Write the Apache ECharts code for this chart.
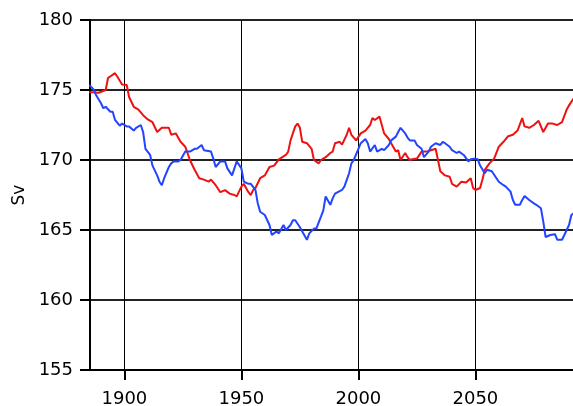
<!DOCTYPE html>
<html lang="en">
<head>
    <meta charset="UTF-8">
    <title>Sv</title>
    <script src="https://cdn.jsdelivr.net/npm/echarts@6/dist/echarts.min.js"></script>
    <style>
        html, body { margin: 0; padding: 0; background: #fff; }
        #chart { width: 573px; height: 406px; }
    </style>
</head>
<body>
    <div id="chart"></div>
    <script>
        // red series
        var redYears = [1885, 1889, 1892, 1893, 1896, 1897, 1899, 1901, 1902, 1904, 1906, 1908, 1910, 1912, 1914, 1916, 1919, 1920, 1922, 1924,
            1926, 1928, 1930, 1932, 1934, 1936, 1937, 1939, 1941, 1943, 1945, 1947, 1948, 1950, 1951, 1953, 1954, 1955, 1956, 1958,
            1960, 1962, 1964, 1966, 1969, 1970, 1971, 1973, 1974, 1975, 1976, 1978, 1980, 1981, 1983, 1984, 1986, 1988, 1989, 1990,
            1992, 1993, 1995, 1996, 1997, 1999, 2001, 2003, 2005, 2006, 2007, 2009, 2010, 2011, 2013, 2014, 2016, 2017, 2018, 2020,
            2021, 2022, 2023, 2025, 2027, 2029, 2031, 2033, 2034, 2035, 2037, 2039, 2040, 2042, 2044, 2046, 2048, 2049, 2050, 2052,
            2053, 2054, 2056, 2058, 2060, 2062, 2064, 2066, 2068, 2070, 2071, 2073, 2075, 2077, 2079, 2081, 2083, 2085, 2087, 2089,
            2090, 2092];
        var redValues = [174.86, 174.8, 175.0, 175.86, 176.2, 175.95, 175.4, 175.36, 174.5, 173.8, 173.6, 173.2, 172.9, 172.7, 172.0, 172.3, 172.3, 171.8, 171.9, 171.3,
            170.95, 170.0, 169.3, 168.7, 168.6, 168.45, 168.6, 168.2, 167.7, 167.85, 167.6, 167.5, 167.4, 168.1, 168.3, 167.7, 167.5, 167.85, 168.0, 168.7,
            168.9, 169.5, 169.6, 170.05, 170.36, 170.6, 171.4, 172.4, 172.6, 172.3, 171.3, 171.2, 170.8, 170.0, 169.76, 170.0, 170.2, 170.5, 170.6, 171.2,
            171.3, 171.1, 171.8, 172.3, 171.8, 171.4, 171.9, 172.1, 172.5, 173.0, 172.86, 173.1, 172.5, 171.9, 171.5, 171.2, 170.6, 170.7, 170.0, 170.5,
            170.2, 170.0, 170.05, 170.1, 170.6, 170.6, 170.7, 170.8, 170.0, 169.2, 168.9, 168.8, 168.3, 168.1, 168.45, 168.4, 168.7, 168.0, 167.86, 168.0,
            168.6, 169.3, 169.76, 170.1, 170.95, 171.3, 171.7, 171.8, 172.1, 173.0, 172.4, 172.3, 172.5, 172.8, 172.0, 172.6, 172.6, 172.5, 172.7, 173.6,
            173.9, 174.4];

        // blue series
        var blueYears = [1885, 1887, 1888, 1890, 1891, 1892, 1894, 1895, 1896, 1898, 1899, 1901, 1902, 1904, 1905, 1907, 1908, 1909, 1911, 1912,
            1914, 1915, 1916, 1917, 1919, 1920, 1921, 1923, 1924, 1926, 1928, 1930, 1931, 1933, 1934, 1937, 1938, 1939, 1941, 1943,
            1944, 1946, 1947, 1948, 1950, 1951, 1953, 1954, 1956, 1957, 1958, 1960, 1962, 1963, 1965, 1966, 1968, 1969, 1971, 1972,
            1973, 1975, 1976, 1978, 1979, 1981, 1982, 1984, 1985, 1986, 1988, 1989, 1990, 1993, 1994, 1996, 1997, 1998, 2000, 2001,
            2003, 2004, 2005, 2007, 2008, 2010, 2011, 2013, 2014, 2016, 2017, 2018, 2020, 2021, 2022, 2024, 2025, 2027, 2028, 2030,
            2031, 2033, 2035, 2036, 2037, 2039, 2040, 2042, 2043, 2045, 2047, 2048, 2050, 2051, 2052, 2054, 2055, 2057, 2059, 2060,
            2062, 2063, 2065, 2066, 2067, 2069, 2070, 2071, 2073, 2075, 2076, 2078, 2079, 2080, 2082, 2084, 2085, 2087, 2088, 2090,
            2091, 2092];
        var blueValues = [175.36, 175.0, 174.6, 174.05, 173.7, 173.8, 173.45, 173.45, 172.86, 172.45, 172.6, 172.4, 172.4, 172.1, 172.3, 172.5, 172.0, 170.8, 170.36, 169.6,
            168.9, 168.45, 168.2, 168.7, 169.5, 169.76, 169.9, 169.9, 170.0, 170.6, 170.6, 170.8, 170.8, 171.07, 170.7, 170.6, 170.1, 169.5, 169.9, 169.9,
            169.4, 168.9, 169.4, 169.9, 169.4, 168.45, 168.3, 168.3, 167.86, 166.9, 166.3, 166.07, 165.36, 164.64, 164.9, 164.76, 165.36, 165.0, 165.36, 165.7,
            165.7, 165.2, 164.9, 164.3, 164.76, 165.1, 165.1, 165.95, 166.4, 167.4, 166.8, 167.26, 167.6, 167.86, 168.1, 169.05, 169.76, 170.0, 170.8, 171.2,
            171.5, 171.2, 170.6, 171.07, 170.6, 170.8, 170.7, 171.07, 171.4, 171.67, 172.0, 172.3, 171.9, 171.6, 171.4, 171.4, 171.07, 170.8, 170.2, 170.6,
            170.95, 171.2, 171.07, 171.3, 171.2, 170.95, 170.7, 170.5, 170.6, 170.36, 169.9, 170.05, 170.1, 170.05, 169.6, 169.05, 169.3, 169.2, 168.7, 168.45,
            168.2, 168.1, 167.74, 167.14, 166.8, 166.8, 167.14, 167.43, 167.14, 166.9, 166.8, 166.55, 165.6, 164.5, 164.64, 164.7, 164.3, 164.3, 164.64, 165.36,
            166.07, 166.2];

        // tick labels
        var xTicks = [1900, 1950, 2000, 2050];
        var yMin = 155, yMax = 180, yStep = 5;

        function pairs(xs, ys) {
            var out = [];
            for (var i = 0; i < xs.length; i++) {
                out.push([xs[i], ys[i]]);
            }
            return out;
        }

        var myChart = echarts.init(document.getElementById('chart'));
        var labelFont = {
            color: '#000',
            fontFamily: 'DejaVu Sans',
            fontSize: 18
        };

        var option = {
            animation: false,
            backgroundColor: '#fff',
            grid: {
                left: 90,
                right: 0,
                top: 20,
                bottom: 36,
                outerBoundsMode: 'none'
            },
            xAxis: {
                type: 'value',
                min: 1885.3,
                max: 2091.7,
                axisLine: { show: true, onZero: false, lineStyle: { color: '#000', width: 2 } },
                axisTick: {
                    show: true,
                    customValues: xTicks,
                    length: 10,
                    lineStyle: { color: '#000', width: 2 }
                },
                axisLabel: Object.assign({
                    customValues: xTicks,
                    margin: 20,
                    formatter: function (v) { return String(v); }
                }, labelFont),
                splitLine: { show: true, lineStyle: { color: '#000', width: 1 } }
            },
            yAxis: {
                type: 'value',
                min: yMin,
                max: yMax,
                interval: yStep,
                name: 'Sv',
                nameLocation: 'middle',
                nameGap: 60,
                nameTextStyle: { color: '#000', fontFamily: 'DejaVu Sans', fontSize: 17 },
                axisLine: { show: true, lineStyle: { color: '#000', width: 2 } },
                axisTick: { show: true, length: 10, lineStyle: { color: '#000', width: 2 } },
                axisLabel: Object.assign({ margin: 17 }, labelFont),
                splitLine: { show: true, lineStyle: { color: '#222', width: 2 } }
            },
            series: [
                {
                    name: 'red',
                    type: 'line',
                    showSymbol: false,
                    lineStyle: { color: '#ee1111', width: 2 },
                    itemStyle: { color: '#ee1111' },
                    data: pairs(redYears, redValues)
                },
                {
                    name: 'blue',
                    type: 'line',
                    showSymbol: false,
                    lineStyle: { color: '#2244ff', width: 2 },
                    itemStyle: { color: '#2244ff' },
                    data: pairs(blueYears, blueValues)
                }
            ]
        };
        myChart.setOption(option);
    </script>
</body>
</html>
